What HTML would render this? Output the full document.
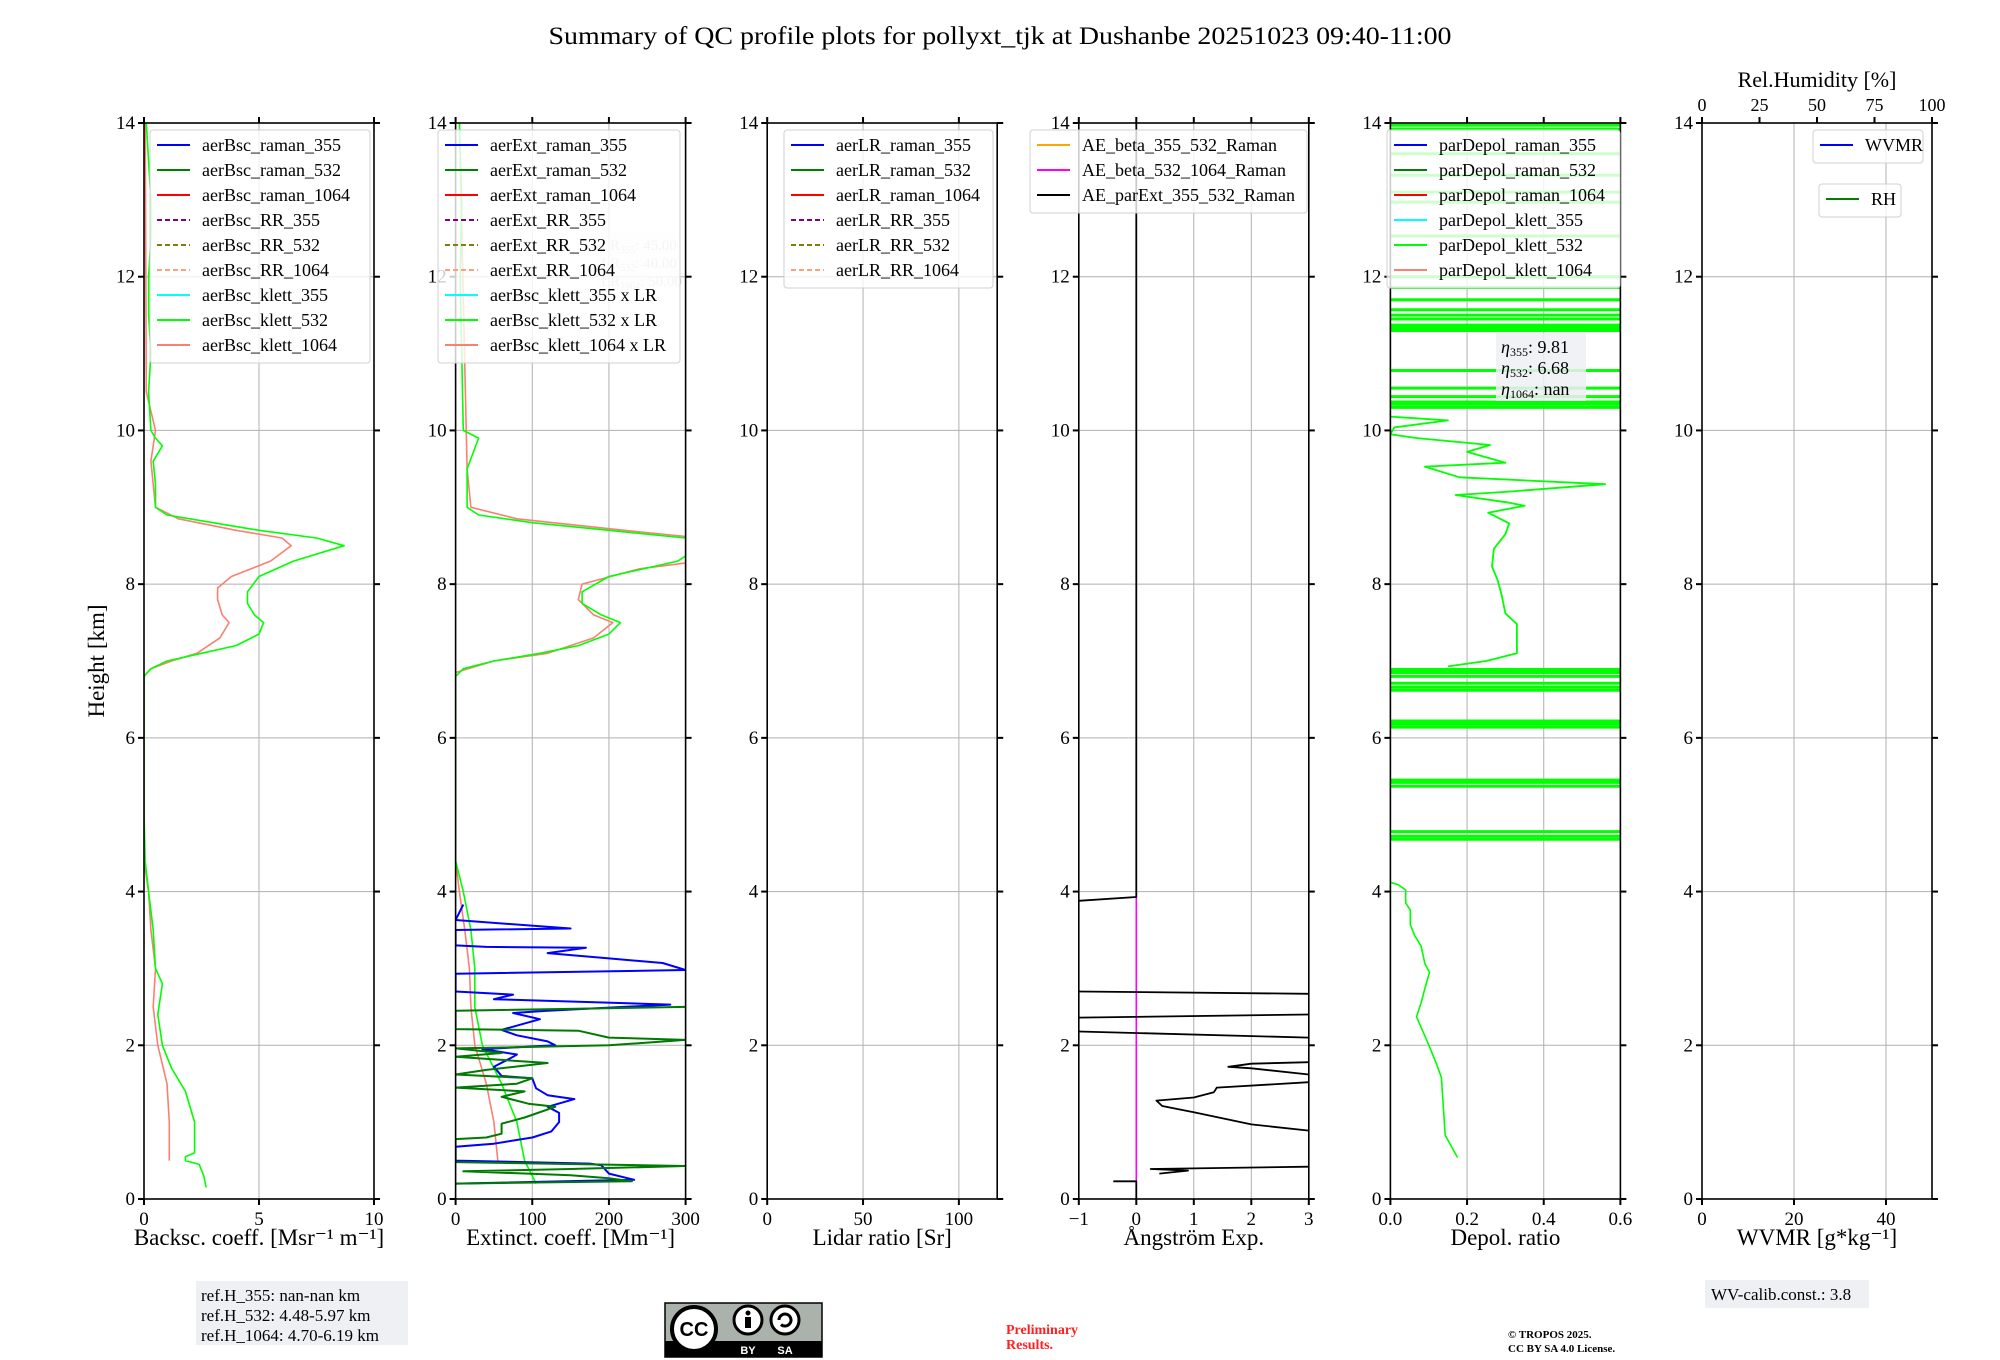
<!DOCTYPE html>
<html><head><meta charset="utf-8"><style>
html,body{margin:0;padding:0;background:#fff;}
svg{display:block;font-family:"Liberation Serif","DejaVu Serif",serif;}
</style></head><body>
<svg id="fig" width="2000" height="1360" viewBox="0 0 2000 1360" xmlns="http://www.w3.org/2000/svg">
<text x="1000" y="44" text-anchor="middle" font-size="25" textLength="903" lengthAdjust="spacingAndGlyphs">Summary of QC profile plots for pollyxt_tjk at Dushanbe 20251023 09:40-11:00</text>
<text transform="translate(104,661) rotate(-90)" text-anchor="middle" font-size="23">Height [km]</text>
<g id="plots"></g>
<g>
<rect x="196" y="1281" width="212" height="64" fill="#eef0f4"/>
<text x="201" y="1301" font-size="17">ref.H_355: nan-nan km</text>
<text x="201" y="1321" font-size="17">ref.H_532: 4.48-5.97 km</text>
<text x="201" y="1341" font-size="17">ref.H_1064: 4.70-6.19 km</text>
</g>
<g>
<rect x="665" y="1303" width="157" height="54" fill="#aab2ab" stroke="#000" stroke-width="1.5"/>
<rect x="665" y="1341" width="157" height="16" fill="#000"/>
<circle cx="694" cy="1329" r="22" fill="#fff" stroke="#000" stroke-width="4"/>
<text x="694" y="1336" text-anchor="middle" font-size="20" font-weight="bold" font-family="Liberation Sans,sans-serif">CC</text>
<circle cx="748" cy="1320" r="14" fill="#fff" stroke="#000" stroke-width="3"/>
<circle cx="748" cy="1313" r="2.5" fill="#000"/><rect x="745" y="1317" width="6" height="11" fill="#000"/>
<circle cx="785" cy="1320" r="14" fill="#fff" stroke="#000" stroke-width="3"/>
<path d="M779 1320 a6 6 0 1 1 2 4.5" fill="none" stroke="#000" stroke-width="3"/>
<text x="748" y="1354" text-anchor="middle" font-size="11" fill="#fff" font-family="Liberation Sans,sans-serif" font-weight="bold">BY</text>
<text x="785" y="1354" text-anchor="middle" font-size="11" fill="#fff" font-family="Liberation Sans,sans-serif" font-weight="bold">SA</text>
</g>
<g fill="#ff2020" font-weight="bold" font-size="14">
<text x="1006" y="1334">Preliminary</text><text x="1006" y="1349">Results.</text></g>
<g font-weight="bold" font-size="11">
<text x="1508" y="1338">© TROPOS 2025.</text><text x="1508" y="1352">CC BY SA 4.0 License.</text></g>
<g>
<rect x="1705" y="1280" width="164" height="28" fill="#eef0f4"/>
<text x="1711" y="1300" font-size="17">WV-calib.const.: 3.8</text></g>
</svg>
<script>
// ---------- data ----------
const P1_532_H=[0.15,0.3,0.45,0.5,0.55,0.6,1.0,1.4,1.7,2.0,2.4,2.8,3.0,3.5,4.0,4.4,5,6,6.8,6.9,7.0,7.1,7.2,7.35,7.5,7.6,7.75,7.9,8.1,8.3,8.5,8.6,8.7,8.8,8.9,9.0,9.3,9.6,9.8,9.9,10.0,10.5,11,11.5,12,12.5,13,13.5,14];
const P1_532_V=[2.7,2.6,2.4,1.8,1.8,2.2,2.2,1.8,1.2,0.8,0.6,0.8,0.5,0.4,0.2,0.05,0,0,0,0.3,1.0,2.5,4.0,5.0,5.2,4.8,4.5,4.5,5.0,6.5,8.7,7.5,5.0,3.0,1.0,0.5,0.5,0.4,0.8,0.5,0.3,0.2,0.3,0.2,0.2,0.3,0.3,0.2,0.1];
const P1_1064_H=[0.5,1.0,1.5,2.0,2.5,3.0,3.5,4.0,4.4,6.8,6.9,7.0,7.1,7.3,7.5,7.6,7.8,7.95,8.1,8.3,8.5,8.6,8.7,8.85,9.0,9.3,9.6,10,10.5,14];
const P1_1064_V=[1.1,1.1,1.0,0.6,0.4,0.5,0.3,0.2,0,0,0.3,1.2,2.3,3.3,3.7,3.4,3.2,3.2,3.8,5.5,6.4,6.0,4.0,1.5,0.5,0.4,0.3,0.5,0.1,0.05];
const P2_532_H=[0.2,0.5,1,1.5,2,2.5,3,3.5,4,4.4,6.8,6.9,7.0,7.1,7.2,7.35,7.5,7.6,7.75,7.9,8.1,8.3,8.5,8.6,8.7,8.8,8.9,9.0,9.5,9.9,10,11,12,13,14];
const P2_532_V=[105,90,80,60,35,25,25,20,10,0,0,10,50,110,160,200,215,190,165,165,200,290,320,300,200,100,30,15,15,30,10,8,6,8,5];
const P2_1064_H=[0.5,1,1.5,2,2.5,3,3.5,4.0,4.4,6.85,7.0,7.1,7.3,7.5,7.6,7.8,8.0,8.2,8.3,8.6,8.7,8.85,9.0,9.5,14];
const P2_1064_V=[55,50,40,25,20,18,12,5,0,0,50,120,180,205,180,160,165,240,320,320,220,80,20,15,5];
const P2_R355_H=[0.2,0.25,0.33,0.44,0.46,0.5,0.68,0.72,0.8,0.88,1.0,1.12,1.2,1.3,1.35,1.44,1.57,1.6,1.72,1.85,1.88,1.95,2.0,2.05,2.13,2.2,2.34,2.42,2.45,2.53,2.6,2.66,2.7,2.74,2.93,2.98,3.07,3.13,3.2,3.27,3.28,3.3,3.5,3.52,3.63,3.83];
const P2_R355_V=[0,233,200,190,175,0,0,50,100,125,135,135,120,155,120,105,100,60,50,75,80,35,130,120,80,60,110,75,120,280,50,75,0,0,0,300,270,200,120,170,40,0,0,150,0,10];
const P2_R532_H=[0.2,0.23,0.27,0.31,0.36,0.39,0.43,0.48,0.78,0.8,0.85,0.98,1.06,1.2,1.24,1.33,1.4,1.45,1.5,1.57,1.62,1.68,1.77,1.85,1.9,1.96,2.0,2.07,2.1,2.19,2.21,2.45,2.5];
const P2_R532_V=[0,230,200,150,10,150,300,0,0,40,60,60,90,130,95,60,90,0,80,100,0,40,120,0,60,0,200,300,200,160,0,0,300];
const AE_H=[0,0.23,0.23,null,0.33,0.37,0.39,0.42,null,0.89,0.97,1.13,1.21,1.28,1.32,1.39,1.45,1.52,null,1.62,1.7,1.72,1.76,1.78,null,2.1,2.18,null,2.36,2.4,null,2.67,2.7,null,3.88,3.93,3.93,14];
const AE_V=[0,0,-0.4,null,0.4,0.9,0.25,3,null,3,2,1,0.45,0.35,1,1.35,1.4,3,null,3,2,1.6,2,3,null,3,-1,null,-1,3,null,3,-1,null,-1,0,0,0];
const DEP_H=[0.54,0.83,1.58,1.76,2.04,2.37,2.55,2.74,2.95,3.06,3.29,3.43,3.57,3.76,3.85,4.02,4.09,4.12];
const DEP_V=[0.175,0.143,0.133,0.12,0.097,0.068,0.08,0.09,0.102,0.09,0.08,0.063,0.052,0.052,0.04,0.04,0.02,0.0];
const DEP_UP_H=[6.93,7.0,7.1,7.34,7.48,7.62,7.86,8.05,8.23,8.46,8.65,8.79,8.93,9.02,9.06,9.16,9.2,9.3,9.39,9.53,9.58,9.72,9.81,9.9,9.95,10.04,10.13,10.18];
const DEP_UP_V=[0.15,0.25,0.33,0.33,0.33,0.3,0.29,0.28,0.265,0.27,0.3,0.31,0.255,0.35,0.31,0.17,0.3,0.56,0.18,0.09,0.3,0.2,0.26,0.07,0.0,0.01,0.15,0.0];
const DEP_SPIKE_H=[4.68,4.72,4.78,5.37,5.42,5.45,6.14,6.18,6.22,6.62,6.66,6.71,6.8,6.85,6.89,10.3,10.34,10.37,10.44,10.55,10.78,11.3,11.34,11.37,11.45,11.5,11.57,11.7,11.86,12.0,12.53,12.97,13.1,13.32,13.6,13.92,13.97];
// ---------- layout ----------
const TOP=123,BOT=1199,W=230,LEFTS=[144,455.6,767.2,1078.8,1390.4,1702];
const XR=[[0,10],[0,300],[0,120],[-1,3],[0,0.6],[0,50]];
const XT=[[0,5,10],[0,100,200,300],[0,50,100],[-1,0,1,2,3],[0,0.2,0.4,0.6],[0,20,40]];
const XTL=[["0","5","10"],["0","100","200","300"],["0","50","100"],["\u22121","0","1","2","3"],["0.0","0.2","0.4","0.6"],["0","20","40"]];
const XLAB=["Backsc. coeff. [Msr\u207B\u00B9 m\u207B\u00B9]","Extinct. coeff. [Mm\u207B\u00B9]","Lidar ratio [Sr]","\u00C5ngstr\u00F6m Exp.","Depol. ratio","WVMR [g*kg\u207B\u00B9]"];
const NS="http://www.w3.org/2000/svg";
const root=document.getElementById('plots');
function mk(tag,attrs,parent){const e=document.createElementNS(NS,tag);for(const k in attrs)e.setAttribute(k,attrs[k]);(parent||root).appendChild(e);return e;}
function yS(h){return BOT-(h/14)*(BOT-TOP);}
function xS(i,v){const r=XR[i];return LEFTS[i]+(v-r[0])/(r[1]-r[0])*W;}
function pathD(i,H,V){let d='',pen=false;for(let k=0;k<H.length;k++){if(H[k]===null){pen=false;continue;}d+=(pen?'L':'M')+xS(i,V[k]).toFixed(1)+' '+yS(H[k]).toFixed(1);pen=true;}return d;}
for(let i=0;i<6;i++){
  const L=LEFTS[i];
  const cp=mk('clipPath',{id:'cp'+i});
  mk('rect',{x:L,y:TOP,width:W,height:BOT-TOP},cp);
  const g=mk('g',{});
  
  
  for(let h=0;h<=14;h+=2){const l=mk('line',{x1:L,x2:L+W,y1:yS(h),y2:yS(h),stroke:'#b0b0b0','stroke-width':1},g);
    
    }
  XT[i].forEach(v=>{const l=mk('line',{x1:xS(i,v),x2:xS(i,v),y1:TOP,y2:BOT,stroke:'#b0b0b0','stroke-width':1},g);
    
    });
  const pg=mk('g',{'clip-path':'url(#cp'+i+')'},g);
  
  
  function series(H,V,col,sw,name){const p=mk('path',{d:pathD(i,H,V),fill:'none',stroke:col,'stroke-width':sw,'stroke-linejoin':'round'},pg);
    
    }
  if(i===0){series(P1_1064_H,P1_1064_V,'#fa8072',1.6,'aerBsc-klett-1064-line');series(P1_532_H,P1_532_V,'#00ff00',1.6,'aerBsc-klett-532-line');}
  if(i===1){series(P2_1064_H,P2_1064_V,'#fa8072',1.6,'aerExt-klett-1064-line');series(P2_532_H,P2_532_V,'#00ff00',1.6,'aerExt-klett-532-line');
    series(P2_R355_H,P2_R355_V,'#0000ff',2,'aerExt-raman-355-line');series(P2_R532_H,P2_R532_V,'#007a00',2,'aerExt-raman-532-line');}
  if(i===3){const mh=[0.23,3.93],mv=[0,0];series(mh,mv,'#ff00ff',1.6,'ae-beta-532-1064-line');series(AE_H,AE_V,'#000',1.8,'ae-parext-355-532-line');}
  if(i===4){
    DEP_SPIKE_H.forEach(h=>{const l=mk('line',{x1:xS(4,0),x2:xS(4,0.7),y1:yS(h),y2:yS(h),stroke:'#00ff00','stroke-width':3},pg);
      
      });
    series(DEP_H,DEP_V,'#00ff00',1.6,'parDepol-klett-532-low-line');series(DEP_UP_H,DEP_UP_V,'#00ff00',1.8,'parDepol-klett-532-line');}
  const fr=mk('rect',{x:L,y:TOP,width:W,height:BOT-TOP,fill:'none',stroke:'#000','stroke-width':1.6},g);
  
  
  for(let h=0;h<=14;h+=2){
    mk('line',{x1:L-6,x2:L,y1:yS(h),y2:yS(h),stroke:'#000','stroke-width':2},g);
    mk('line',{x1:L+W,x2:L+W+6,y1:yS(h),y2:yS(h),stroke:'#000','stroke-width':2},g);
    const t=mk('text',{x:L-9,y:yS(h)+6,'text-anchor':'end','font-size':19},g);t.textContent=h;
    
    }
  XT[i].forEach((v,k)=>{
    mk('line',{x1:xS(i,v),x2:xS(i,v),y1:BOT,y2:BOT+6,stroke:'#000','stroke-width':2},g);
    if(i!==5) mk('line',{x1:xS(i,v),x2:xS(i,v),y1:TOP-6,y2:TOP,stroke:'#000','stroke-width':2},g);
    const t=mk('text',{x:xS(i,v),y:BOT+26,'text-anchor':'middle','font-size':19},g);t.textContent=XTL[i][k];
    
    });
  const xl=mk('text',{x:L+W/2,y:BOT+46,'text-anchor':'middle','font-size':23},g);xl.textContent=XLAB[i];
  
  
}
const RHT=[0,25,50,75,100];
RHT.forEach(v=>{const x=LEFTS[5]+v/100*W;
  mk('line',{x1:x,x2:x,y1:TOP-6,y2:TOP,stroke:'#000','stroke-width':2});
  const t=mk('text',{x:x,y:TOP-12,'text-anchor':'middle','font-size':18});t.textContent=v;
  
  });
const rt=mk('text',{x:LEFTS[5]+W/2,y:TOP-36,'text-anchor':'middle','font-size':22});rt.textContent='Rel.Humidity [%]';


const lrg=mk('g',{});


mk('rect',{x:597,y:232,width:83,height:56,fill:'#eef0f4','fill-opacity':0.35},lrg);
[['LR','355',': 45.00'],['LR','532',': 40.00'],['LR','1064',': 50.00']].forEach((a,k)=>{
  const t=mk('text',{x:601,y:250+k*18,'font-size':15,fill:'#c8c8c8'},lrg);
  t.innerHTML=a[0]+'<tspan font-size="10" dy="3">'+a[1]+'</tspan><tspan dy="-3">'+a[2]+'</tspan>';});
const eg=mk('g',{});


mk('rect',{x:1496,y:333,width:90,height:68,fill:'#eef0f4','fill-opacity':0.85},eg);
[['355',': 9.81'],['532',': 6.68'],['1064',': nan']].forEach((a,k)=>{
  const t=mk('text',{x:1501,y:353+k*21,'font-size':18},eg);
  t.innerHTML='<tspan font-style="italic">\u03B7</tspan><tspan font-size="12" dy="3">'+a[0]+'</tspan><tspan dy="-3">'+a[1]+'</tspan>';});
function legend(name,x,y,w,entries,rowH){
  const g=mk('g',{});
  
  
  mk('rect',{x:x,y:y,width:w,height:entries.length*rowH+8,rx:3,fill:'#fff','fill-opacity':0.8,stroke:'#d0d0d0','stroke-width':1},g);
  entries.forEach((e,k)=>{const cy=y+15+k*rowH;
    const l=mk('line',{x1:x+7,x2:x+40,y1:cy,y2:cy,stroke:e[1],'stroke-width':2,'stroke-dasharray':e[2]?'5,3':'none'},g);
    
    
    const t=mk('text',{x:x+52,y:cy+6,'font-size':18},g);t.textContent=e[0];
    
    });
}
const C=['#0000ff','#008000','#ff0000','#800080','#808000','#ffa07a','#00ffff','#00ff00','#fa8072'];
legend('legend-backscatter',150,130,220,['aerBsc_raman_355','aerBsc_raman_532','aerBsc_raman_1064','aerBsc_RR_355','aerBsc_RR_532','aerBsc_RR_1064','aerBsc_klett_355','aerBsc_klett_532','aerBsc_klett_1064'].map((n,k)=>[n,C[k],k>=3&&k<=5]),25);
legend('legend-extinction',438,130,242,['aerExt_raman_355','aerExt_raman_532','aerExt_raman_1064','aerExt_RR_355','aerExt_RR_532','aerExt_RR_1064','aerBsc_klett_355 x LR','aerBsc_klett_532 x LR','aerBsc_klett_1064 x LR'].map((n,k)=>[n,C[k],k>=3&&k<=5]),25);
legend('legend-lidar-ratio',784,130,209,['aerLR_raman_355','aerLR_raman_532','aerLR_raman_1064','aerLR_RR_355','aerLR_RR_532','aerLR_RR_1064'].map((n,k)=>[n,C[k],k>=3]),25);
legend('legend-angstrom',1030,130,277,[['AE_beta_355_532_Raman','#ffa500'],['AE_beta_532_1064_Raman','#ff00ff'],['AE_parExt_355_532_Raman','#000']],25);
legend('legend-depol',1387,130,233,[['parDepol_raman_355','#0000ff'],['parDepol_raman_532','#008000'],['parDepol_raman_1064','#ff0000'],['parDepol_klett_355','#00ffff'],['parDepol_klett_532','#00ff00'],['parDepol_klett_1064','#fa8072']],25);
legend('legend-wvmr',1823-10,130,110,[['WVMR','#0000ff']],25);
legend('legend-rh',1829-10,184,82,[['RH','#008000']],25);
</script>
</body></html>
